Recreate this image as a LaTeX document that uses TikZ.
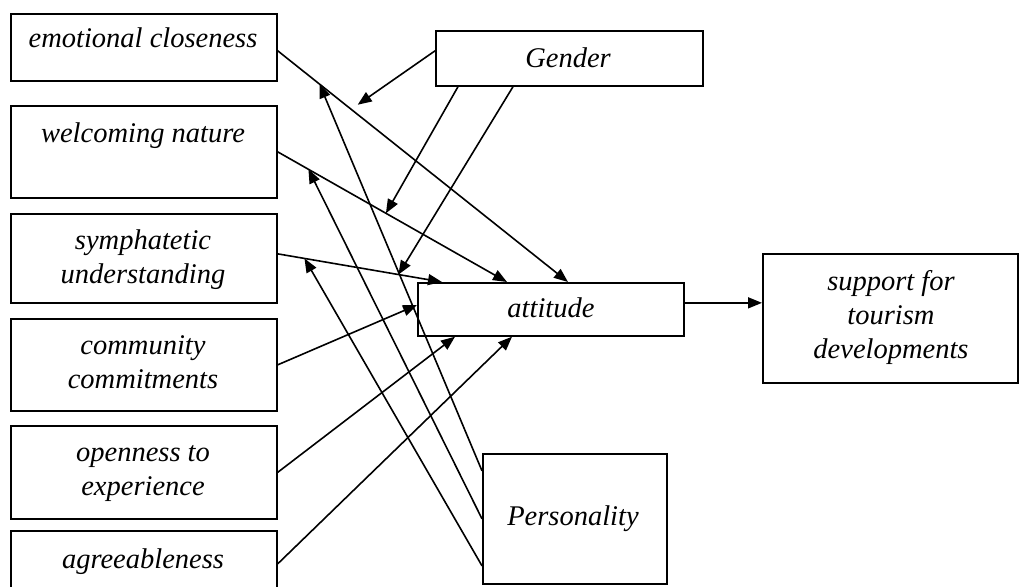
\documentclass[tikz,border=0pt]{standalone}
\usepackage{fontspec}
\setmainfont{Liberation Serif}
\usetikzlibrary{arrows.meta,calc}
\begin{document}
\begin{tikzpicture}[x=1pt,y=-1pt,
  box/.style={draw,line width=1.7pt,inner sep=0pt,anchor=north west},
  lbl/.style={font=\fontsize{28.5}{34}\selectfont\itshape,inner sep=0pt,anchor=base,align=center},
  link/.style={line width=1.6pt,-{Triangle[length=14pt,width=11pt]}}]
\useasboundingbox (0,0) rectangle (1019,586);
\clip (0,0) rectangle (1019,586);

% boxes
\node[box,minimum width=266pt,minimum height=67pt] (emo) at (10,13) {};
\node[box,minimum width=266pt,minimum height=92pt] (wel) at (10,105) {};
\node[box,minimum width=266pt,minimum height=89pt] (sym) at (10,213) {};
\node[box,minimum width=266pt,minimum height=92pt] (com) at (10,318) {};
\node[box,minimum width=266pt,minimum height=93pt] (opn) at (10,425) {};
\node[box,minimum width=266pt,minimum height=66pt] (agr) at (10,530) {};
\node[box,minimum width=267pt,minimum height=55pt] (gen) at (435,30) {};
\node[box,minimum width=266pt,minimum height=53pt] (att) at (417,282) {};
\node[box,minimum width=184pt,minimum height=130pt] (per) at (482,453) {};
\node[box,minimum width=255pt,minimum height=129pt] (sup) at (762,253) {};

% labels (anchored at the baseline of their last line)
\node[lbl] (emoT) at (143,48) {emotional closeness};
\node[lbl] (welT) at (143,142) {welcoming nature};
\node[lbl] (symT) at (143,283) {symphatetic\\understanding};
\node[lbl] (comT) at (143,388) {community\\commitments};
\node[lbl] (opnT) at (143,495) {openness to\\experience};
\node[lbl] (agrT) at (143,568) {agreeableness};
\node[lbl] (genT) at (568,67) {Gender};
\node[lbl] (attT) at (551,317) {attitude};
\node[lbl] (perT) at (573,525) {Personality};
\node[lbl] (supT) at (891,358) {support for\\tourism\\developments};

% attachment points
\coordinate (e0) at ($(emo.north east)!0.55!(emo.south east)$);
\coordinate (s0) at ($(sym.east)+(0,-4.5)$);
\coordinate (a1) at ($(att.north west)+(151,0)$);
\coordinate (a2) at ($(att.north west)+(90,0)$);
\coordinate (a3) at ($(att.north west)+(25,0)$);
\coordinate (a4) at ($(att.north west)+(0,23)$);
\coordinate (a5) at ($(att.south west)+(38,0)$);
\coordinate (a6) at ($(att.south west)+(95,0)$);

% predictors to attitude
\draw[link] (e0) -- (a1) coordinate[pos=0.144] (m1p) coordinate[pos=0.253] (m1g);
\draw[link] (wel.east) -- (a2) coordinate[pos=0.134] (m2p) coordinate[pos=0.472] (m2g);
\draw[link] (s0) -- (a3) coordinate[pos=0.163] (m3p) coordinate[pos=0.735] (m3g);
\draw[link] (com.east) -- (a4);
\draw[link] (opn.east) -- (a5);
\draw[link] (agr.east) -- (a6);

% moderators
\draw[link,shorten >=8pt] ($(gen.west)+(0,-7.5)$) -- (m1g);
\draw[link] ($(gen.south west)+(23,0)$) -- (m2g);
\draw[link] ($(gen.south west)+(78,0)$) -- (m3g);
\draw[link] ($(per.west)+(0,-48)$) -- (m1p);
\draw[link] (per.west) -- (m2p);
\draw[link] ($(per.west)+(0,47)$) -- (m3p);

% outcome
\coordinate (ao) at ($(att.east)+(0,-6.5)$);
\draw[link] (ao) -- (sup.west |- ao);
\end{tikzpicture}
\end{document}
